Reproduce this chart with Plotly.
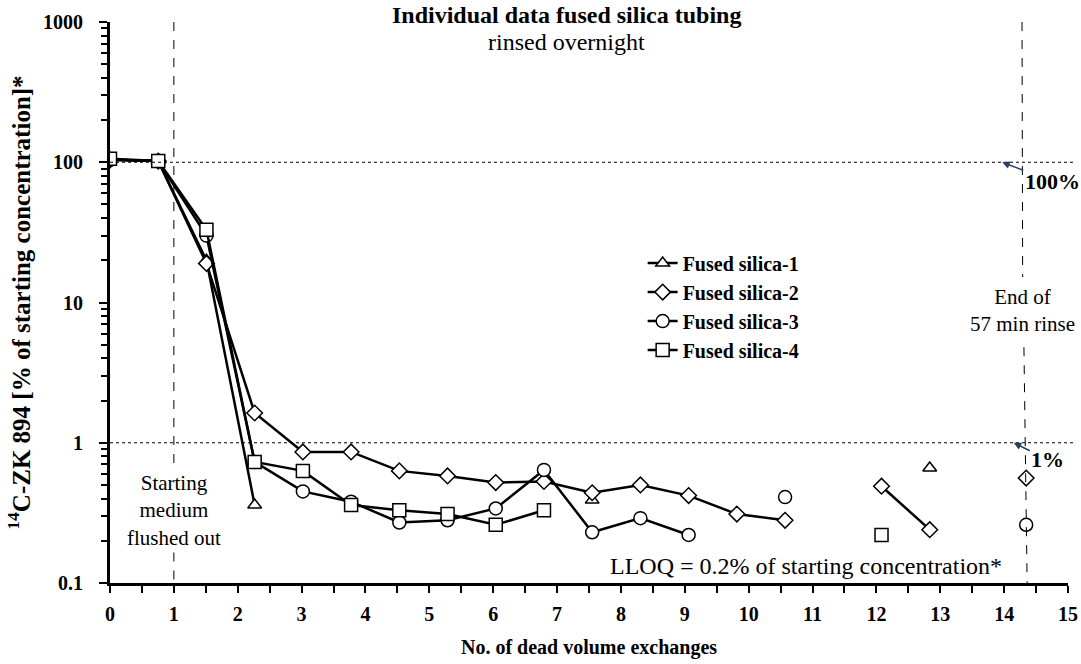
import math
import plotly.graph_objects as go

exchanges = [0, 0.755, 1.51, 2.265, 3.02, 3.775, 4.53, 5.285, 6.04, 6.795,
             7.55, 8.305, 9.06, 9.815, 10.57, 11.325, 12.08, 12.835, 13.59, 14.345]

fs1 = [104, 102, 20, 0.36, None, None, None, None, None, None,
       0.39, None, None, None, None, None, None, 0.66, None, None]
fs2 = [104, 102, 19, 1.63, 0.86, 0.86, 0.63, 0.58, 0.52, 0.53,
       0.44, 0.50, 0.42, 0.31, 0.28, None, 0.49, 0.24, None, 0.56]
fs3 = [104, 102, 30, 0.73, 0.45, 0.38, 0.27, 0.28, 0.34, 0.64,
       0.23, 0.29, 0.22, None, 0.41, None, None, None, None, 0.26]
fs4 = [106, 102, 33, 0.73, 0.63, 0.36, 0.33, 0.31, 0.26, 0.33,
       None, None, None, None, None, None, 0.22, None, None, None]

series = [("Fused silica-1", fs1, "triangle-up", 12),
          ("Fused silica-2", fs2, "diamond", 12),
          ("Fused silica-3", fs3, "circle", 13),
          ("Fused silica-4", fs4, "square", 13)]

FONT = "Liberation Serif"

fig = go.Figure()
for name, vals, sym, sz in series:
    fig.add_trace(go.Scatter(
        x=exchanges, y=vals, name=name, mode="lines+markers",
        connectgaps=False,
        line=dict(color="black", width=2.5),
        marker=dict(symbol=sym, size=sz, color="white",
                    line=dict(color="black", width=1.5)),
    ))

minor_y = [m * 10 ** e for e in range(-1, 3) for m in range(2, 10)]

fig.update_layout(
    width=1081, height=664,
    margin=dict(l=110, r=13, t=22, b=81),
    paper_bgcolor="white", plot_bgcolor="white",
    font=dict(family=FONT, color="black", size=20),
    showlegend=True,
    legend=dict(x=0.556, y=0.605, xanchor="left", yanchor="top",
                bgcolor="rgba(0,0,0,0)", tracegroupgap=0,
                font=dict(family=FONT, size=20, weight="bold"),
                itemwidth=30),
    xaxis=dict(range=[0, 15], tickmode="linear", tick0=0, dtick=1,
               automargin=False,
               showgrid=False, zeroline=False, showline=True,
               linecolor="black", linewidth=3, ticks="outside",
               ticklen=7, tickwidth=2, tickcolor="black",
               ticklabelstandoff=4,
               tickfont=dict(family=FONT, size=20, weight="bold"),
               minor=dict(ticks="outside", dtick=0.5, ticklen=7,
                          tickwidth=2, tickcolor="black"),
               title=dict(text="No. of dead volume exchanges",
                          font=dict(family=FONT, size=20, weight="bold"),
                          standoff=16)),
    yaxis=dict(type="log", range=[-1, 3],
               automargin=False,
               tickvals=[0.1, 1, 10, 100, 1000],
               ticktext=["0.1", "1", "10", "100", "1000"],
               showgrid=False, zeroline=False, showline=True,
               linecolor="black", linewidth=3, ticks="outside",
               ticklen=8, tickwidth=2, tickcolor="black",
               ticklabelstandoff=12,
               tickfont=dict(family=FONT, size=20, weight="bold"),
               minor=dict(ticks="outside", tickvals=minor_y, ticklen=6,
                          tickwidth=2, tickcolor="black"),
               title=dict(text="<sup>14</sup>C-ZK 894 [% of starting concentration]*",
                          font=dict(family=FONT, size=25, weight="bold"),
                          standoff=6)),
)

# reference lines
for yv in [100, 1]:
    fig.add_shape(type="line", xref="paper", yref="y", x0=0, x1=1.007,
                  y0=yv, y1=yv, line=dict(color="black", width=1, dash="dot"))

# vertical dashed line at 1 exchange (with gap for text)
fig.add_shape(type="line", xref="x", yref="y", x0=1, x1=1, y0=1000, y1=0.67,
              line=dict(color="black", width=1, dash="dash"))
fig.add_shape(type="line", xref="x", yref="y", x0=1, x1=1, y0=0.165, y1=0.1,
              line=dict(color="black", width=1, dash="dash"))
# end of rinse
fig.add_shape(type="line", xref="x", yref="y", x0=14.28, x1=14.29, y0=1000, y1=15.2,
              line=dict(color="black", width=1, dash="dash"))
fig.add_shape(type="line", xref="x", yref="y", x0=14.31, x1=14.36, y0=4.8, y1=0.1,
              line=dict(color="black", width=1, dash="dash"))

L = math.log10
ann = [
    dict(x=0.476, y=1.012, xref="paper", yref="paper", text="<b>Individual data fused silica tubing</b>",
         yanchor="middle", font=dict(size=24)),
    dict(x=0.476, y=0.965, xref="paper", yref="paper", text="rinsed overnight",
         yanchor="middle", font=dict(size=24)),
    dict(x=1.0, y=L(0.327), xref="x", yref="y", text="Starting<br>medium<br>flushed out",
         font=dict(size=21), align="center", yanchor="middle"),
    dict(x=14.28, y=L(8.7), xref="x", yref="y", text="End of<br>57 min rinse",
         font=dict(size=21), align="center", yanchor="middle"),
    dict(x=0.933, y=0.03, xref="paper", yref="paper",
         text="LLOQ = 0.2% of starting concentration*", xanchor="right",
         yanchor="middle", font=dict(size=24)),
]
for a in ann:
    a.setdefault("showarrow", False)
    fig.add_annotation(**a)

# arrow labels
fig.add_annotation(x=13.97, y=L(100), xref="x", yref="y", ax=50, ay=19,
                   text="<b>100%</b>", showarrow=True, arrowhead=2, arrowsize=1, arrowwidth=1.5,
                   font=dict(size=22))
fig.add_annotation(x=14.15, y=L(1), xref="x", yref="y", ax=34, ay=17,
                   text="<b>1%</b>", showarrow=True, arrowhead=2, arrowsize=1, arrowwidth=1.5,
                   font=dict(size=22))

fig.write_html("out.html")
